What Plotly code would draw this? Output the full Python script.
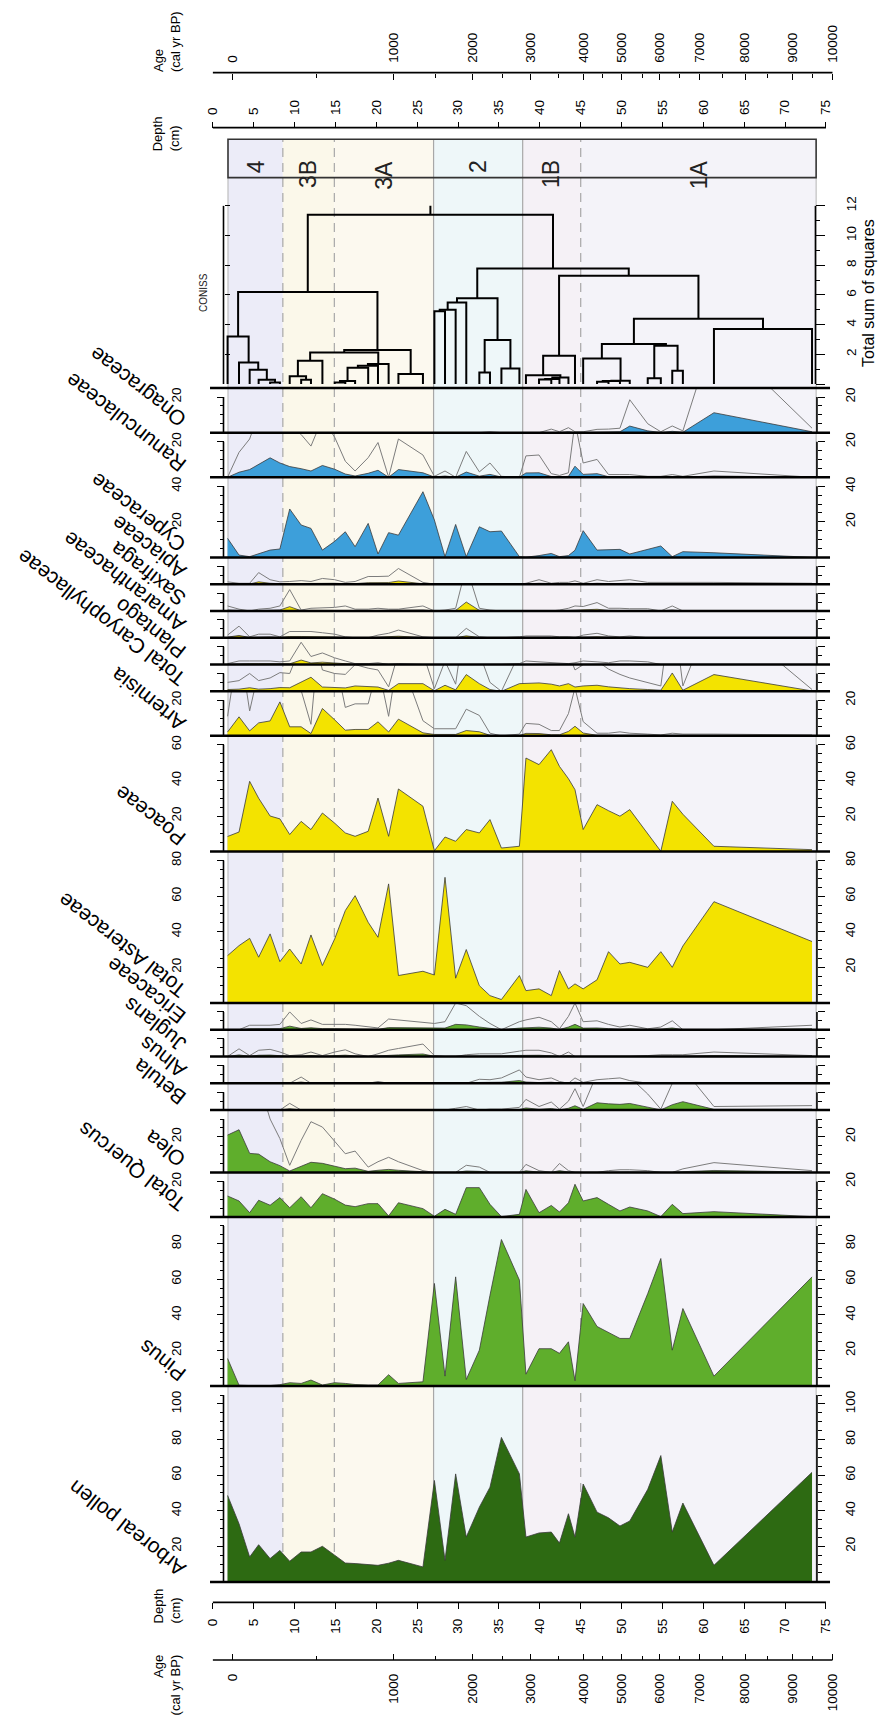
import plotly.graph_objects as go

# ---------------------------------------------------------------- data
# sample depths (cm)
DEPTH = [1.8, 3.2, 4.5, 5.6, 7.0, 8.2, 9.4, 10.8, 12.0, 13.4, 14.9, 16.2, 17.4, 19.0, 20.2,
         21.5, 22.7, 25.7, 27.1, 28.4, 29.7, 31.0, 32.6, 33.9, 35.3, 37.5, 38.3, 39.9, 41.4,
         42.4, 43.5, 44.3, 45.3, 47.0, 48.4, 49.8, 51.0, 53.2, 54.8, 56.2, 57.5, 61.3, 73.3]

# pollen percentages per taxon, one value per sample depth
ONAGRACEAE = [0, 0, 0, 0, 0, 0, 0, 0, 0, 0, 0, 0, 0, 0, 0, 0, 0, 0, 0, 0, 0, 0, 0, 0.1, 0, 0, 0,
              0, 0.4, 0.1, 0.56, 0.1, 0.1, 0.37, 0.4, 0.5, 3.7, 1.0, 0.1, 0.75, 0.2, 11.2, 0.5]
RANUNCULACEAE = [0, 2.8, 4.3, 7.0, 10.9, 8.0, 6.0, 4.8, 3.5, 6.6, 4.5, 1.8, 0.7, 2.2, 3.9, 0,
                 4.3, 2.5, 0.1, 0.7, 0, 2.9, 0.6, 1.6, 0.1, 0, 2.4, 2.5, 0.4, 0.2, 0.5, 6.2, 1.6,
                 2.0, 0.3, 0.3, 0.3, 0.1, 0.1, 0.3, 0.1, 0.7, 0]
CYPERACEAE = [10.7, 1.3, 0.4, 2.0, 4.1, 4.7, 27.2, 18.2, 16.3, 4.1, 9.0, 14.4, 6.0, 19.1, 1.9,
              13.9, 12.5, 36.9, 21.0, 0.4, 18.5, 0.4, 17.2, 14.4, 14.8, 0.4, 0.1, 1.0, 2.2, 0.4,
              1.0, 4.0, 15.0, 4.1, 4.3, 4.5, 1.9, 4.5, 6.4, 0.4, 3.2, 2.6, 0]
APIACEAE = [0.26, 0.1, 0.1, 1.3, 0.5, 0.26, 0.3, 0.4, 0.3, 0.64, 0.5, 0.2, 0.3, 0.86, 0.86, 0.9,
            1.76, 0.2, 0, 0, 0, 0, 0, 0, 0, 0, 0.1, 0.5, 0.1, 0.2, 0.2, 0.37, 0.1, 0.5, 0.3, 0.4,
            0.5, 0.2, 0.2, 0.2, 0.2, 0.2, 0.1]
SAXIFRAGA = [0.56, 0.2, 0, 0.2, 0.3, 0.56, 2.4, 0.1, 0.3, 0.37, 0.4, 0.56, 0.2, 0.2, 0.3, 0.2,
             0.2, 0.56, 0, 0.1, 0.3, 5.0, 0.3, 0.1, 0, 0, 0, 0, 0, 0.1, 0.3, 0.56, 0.5, 0.94, 0.3,
             0.3, 0.25, 0.25, 0, 0.56, 0, 0, 0]
AMARANTHACEAE = [0.3, 1.3, 0.1, 0.4, 0.4, 0.1, 0.7, 0.7, 0.7, 0.56, 0.4, 0.1, 0, 0, 0.3, 0.5,
                 0.86, 0.1, 0, 0, 0, 1.05, 0.1, 0, 0, 0.1, 0.2, 0.2, 0.2, 0.1, 0.1, 0, 0.3, 0.5,
                 0.2, 0.1, 0.2, 0, 0, 0, 0, 0, 0]
PLANTAGO = [0.1, 0.4, 0.4, 0.4, 0.4, 0.3, 0.4, 2.5, 0.9, 1.3, 0.75, 0.4, 0.1, 0.1, 0.2, 0, 0.1, 0,
            0, 0, 0, 0, 0, 0, 0, 0.1, 0.4, 0.3, 0.2, 0.1, 0.1, 0.2, 0.4, 0.3, 0.2, 0.4, 0.4, 0.3,
            0, 0, 0, 0, 0]
CARYOPHYLLACEAE = [1.0, 1.2, 2.0, 1.2, 1.5, 2.1, 2.0, 5.2, 7.9, 2.4, 2.0, 1.9, 3.0, 2.6, 2.4, 0.5,
                   4.3, 4.3, 0.3, 3.4, 0.8, 9.4, 4.3, 1.0, 0, 4.3, 4.3, 4.7, 4.0, 3.0, 4.3, 2.4,
                   3.0, 3.4, 2.5, 1.9, 1.5, 1.0, 0.6, 10.3, 0.6, 9.4, 0.2]
ARTEMISIA = [2.2, 10.7, 2.8, 7.3, 8.4, 19.1, 5.1, 5.1, 1.3, 15.4, 9.0, 3.2, 3.6, 3.6, 7.9, 2.2,
             9.4, 1.7, 0.8, 0.8, 0.8, 3.0, 2.3, 0.3, 0, 0.2, 1.4, 1.3, 0.6, 0.6, 2.5, 5.4, 1.6,
             0.3, 0.3, 0.45, 0.3, 0.2, 0.1, 0.3, 0.2, 0.2, 0.1]
POACEAE = [8.5, 11.0, 39.5, 30.0, 20.0, 18.4, 9.6, 17.0, 12.4, 21.7, 16.0, 10.5, 8.6, 11.4, 30.1,
           8.6, 35.2, 25.5, 0.5, 8.2, 5.8, 12.4, 10.5, 18.0, 2.0, 3.0, 52.6, 48.9, 57.3, 47.9,
           41.0, 34.8, 12.4, 26.4, 23.0, 19.9, 23.6, 10.0, 0.2, 28.3, 21.0, 3.0, 1.1]
ASTERACEAE = [26.6, 32.2, 36.3, 25.7, 38.8, 23.2, 30.3, 21.9, 38.2, 21.0, 36.0, 51.9, 60.3, 45.3,
              36.9, 66.9, 15.4, 17.8, 15.7, 70.6, 13.9, 30.0, 9.7, 4.1, 1.9, 15.4, 6.9, 7.9, 4.1,
              18.2, 7.9, 10.7, 7.9, 13.0, 28.8, 21.9, 22.8, 20.0, 28.8, 20.0, 32.0, 56.9, 34.5]
ERICACEAE = [0, 0, 0.5, 0.5, 0.5, 0.6, 2.0, 0.7, 1.1, 0.6, 0.6, 0.6, 0.5, 0.3, 0.2, 1.2, 1.1, 0.9,
             0.7, 0.9, 3.0, 2.7, 1.5, 0.7, 0, 0.9, 1.1, 1.4, 0.9, 0.1, 1.5, 3.0, 0.9, 1.0, 0.6,
             0.3, 0.5, 0.1, 0.3, 1.0, 0, 0, 0.5]
JUGLANS = [0, 0.86, 0.1, 0.7, 0.8, 0.5, 0.1, 0.2, 0.5, 0.1, 0.5, 0.75, 0.3, 0, 0.3, 0.7, 0.9, 1.4,
           0.1, 0, 0, 0.2, 0.3, 0.3, 0.3, 0.6, 0.7, 0.7, 0.4, 0, 0.5, 0, 0, 0, 0, 0, 0, 0.1, 0.2,
           0.2, 0.2, 0.5, 0.1]
ALNUS = [0, 0, 0, 0, 0, 0, 0, 0.7, 0, 0, 0, 0, 0, 0, 0.2, 0, 0, 0, 0, 0, 0, 0, 0.45, 0.4, 0.6,
         1.5, 0.7, 0.4, 0.6, 0.2, 0, 0.6, 0.1, 0.4, 0.5, 0.6, 0.3, 0, 0, 0, 0, 0, 0]
BETULA = [0, 0, 0, 0, 0, 0, 0.75, 0, 0, 0, 0, 0, 0, 0, 0, 0, 0, 0, 0, 0, 0.2, 0.4, 0, 0.1, 0.1,
          0.3, 1.2, 0.4, 0.9, 0.1, 1.0, 2.4, 0.4, 4.1, 3.5, 3.2, 3.7, 1.8, 0.1, 3.0, 4.7, 0.4, 0.5]
OLEA = [21.0, 24.0, 10.7, 10.3, 6.0, 3.8, 0.8, 3.6, 5.7, 5.1, 3.5, 2.1, 2.4, 0.6, 1.2, 1.7, 1.2,
        0.2, 0, 0, 0, 0.8, 0.6, 0, 0, 0, 0.9, 0.2, 0, 1.0, 0.2, 0, 0, 0, 0.2, 0.3, 0.3, 0.2, 0, 0,
        0.4, 1.1, 0.2]
QUERCUS = [11.8, 9.0, 2.4, 9.4, 6.6, 10.9, 5.2, 11.4, 5.2, 13.1, 10.0, 6.7, 5.8, 7.5, 7.5, 0.6,
           8.0, 4.7, 0.4, 4.3, 1.5, 16.5, 16.5, 7.1, 0.2, 1.5, 15.5, 2.4, 6.5, 2.8, 8.0, 18.4, 9.0,
           10.9, 7.1, 3.4, 5.6, 3.4, 0.2, 7.1, 1.9, 3.0, 0.2]
PINUS = [15.5, 0.5, 0.3, 0.3, 0.3, 0.8, 1.9, 1.5, 3.4, 0.6, 1.9, 1.5, 0.9, 0.6, 0.6, 6.4, 1.5, 2.4,
         57.7, 5.6, 61.4, 3.7, 20.2, 51.0, 82.4, 59.6, 6.7, 21.0, 21.0, 18.4, 24.9, 3.0, 46.4,
         33.5, 30.0, 26.8, 26.8, 52.0, 71.7, 20.2, 43.6, 5.6, 61.4]
ARBOREAL = [48.6, 32.7, 14.0, 20.9, 13.1, 17.7, 11.6, 16.8, 16.8, 20.0, 15.0, 10.6, 10.3, 9.8, 9.3,
            10.5, 12.1, 8.4, 57.0, 12.1, 60.7, 25.2, 42.0, 53.2, 81.2, 60.7, 25.2, 27.5, 28.0,
            21.8, 38.3, 25.2, 55.0, 39.2, 36.0, 31.4, 34.2, 52.0, 71.0, 28.0, 44.3, 9.3, 61.6]

# CONISS agglomeration: (child a, child b, total sum of squares); indices below
# len(DEPTH) are samples, higher indices are earlier merges in this list
CONISS_MERGES = [
    (4, 5, 0.10), (3, 43, 0.29), (2, 44, 0.96), (1, 45, 1.46), (0, 46, 3.20),
    (7, 8, 0.29), (6, 48, 0.52), (49, 9, 1.57), (10, 11, 0.10), (51, 12, 0.20),
    (52, 13, 1.10), (53, 14, 1.23), (54, 15, 1.35), (50, 55, 2.13), (16, 17, 0.67),
    (56, 57, 2.29), (47, 58, 6.20), (18, 19, 4.90), (60, 20, 5.00), (61, 21, 5.50),
    (22, 23, 0.78), (24, 25, 1.05), (63, 64, 2.96), (62, 65, 5.78), (27, 28, 0.30),
    (67, 29, 0.35), (68, 30, 0.45), (26, 69, 0.60), (70, 31, 1.90), (33, 34, 0.15),
    (72, 35, 0.20), (73, 36, 0.22), (32, 74, 1.73), (37, 38, 0.40), (39, 40, 0.90),
    (76, 77, 2.58), (75, 78, 2.70), (41, 42, 3.70), (79, 80, 4.40), (71, 81, 7.30),
    (66, 82, 7.78), (59, 83, 11.40),
]
CONISS_TICKS = [0, 2, 4, 6, 8, 10, 12]

# pollen zones
ZONE_NAMES = ["4", "3B", "3A", "2", "1B", "1A"]
ZONE_BOUNDS = [1.85, 8.56, 14.86, 27.0, 37.9, 45.0, 73.8]

# depth and age scales
DEPTH_TICKS = [0, 5, 10, 15, 20, 25, 30, 35, 40, 45, 50, 55, 60, 65, 70, 75]
AGE_LABELS = ["0", "1000", "2000", "3000", "4000", "5000", "6000", "7000", "8000", "9000", "10000"]
AGE_TICK_DEPTH = [2.4, 22.1, 31.8, 38.9, 45.3, 50.0, 54.6, 59.5, 65.1, 70.9, 75.8]
AGE_MINOR_DEPTH = [12.7, 27.2, 35.4, 42.3, 47.7, 52.5, 57.1, 62.3, 67.9, 73.4]

# ---------------------------------------------------------------- styling
W, H = 884, 1720
FONT = "Liberation Sans, Arial, Helvetica, sans-serif"
BLUE, YELLOW, GREEN, DKGREEN = "#3d9fda", "#f3e300", "#5fae2c", "#2d6a12"
OUTLINE, EXAG_GREY = "#3a3a3a", "#7c7c7c"
ZONE_FILL = ["#ececf8", "#fbf8ea", "#fcf9ef", "#eef7f9", "#f5f1f6", "#f4f3f9"]
ZONE_DASH = ["dash", "dash", "solid", "solid", "dash"]
EXAG = 5

PANELS = [  # name, values, axis maximum, colour, exaggeration curve
    ("Onagraceae", ONAGRACEAE, 20, BLUE, True),
    ("Ranunculaceae", RANUNCULACEAE, 20, BLUE, True),
    ("Cyperaceae", CYPERACEAE, 40, BLUE, False),
    ("Apiaceae", APIACEAE, 10, YELLOW, True),
    ("Saxifraga", SAXIFRAGA, 10, YELLOW, True),
    ("Amaranthaceae", AMARANTHACEAE, 10, YELLOW, True),
    ("Plantago", PLANTAGO, 10, YELLOW, True),
    ("Total Caryophyllaceae", CARYOPHYLLACEAE, 10, YELLOW, True),
    ("Artemisia", ARTEMISIA, 20, YELLOW, True),
    ("Poaceae", POACEAE, 60, YELLOW, False),
    ("Total Asteraceae", ASTERACEAE, 80, YELLOW, False),
    ("Ericaceae", ERICACEAE, 10, GREEN, True),
    ("Juglans", JUGLANS, 10, GREEN, True),
    ("Alnus", ALNUS, 10, GREEN, True),
    ("Betula", BETULA, 10, GREEN, True),
    ("Olea", OLEA, 30, GREEN, True),
    ("Total Quercus", QUERCUS, 20, GREEN, False),
    ("Pinus", PINUS, 90, GREEN, False),
    ("Arboreal pollen", ARBOREAL, 105, DKGREEN, False),
]


def xp(px):
    return px / W


def yp(px):
    return 1 - px / H


# geometry (pixels)
X0_PX, PX_PER_CM = 210.3, 8.23
X_RANGE = [-0.5, 76.5]
X_DOMAIN = [xp(X0_PX + X_RANGE[0] * PX_PER_CM), xp(X0_PX + X_RANGE[1] * PX_PER_CM)]
LEFT_AX, RIGHT_AX = 221.0, 818.5
PX_PER_PCT, GAP = 1.78, 9.0
CONISS_ZERO, CONISS_UNIT, CONISS_TOP, CONISS_BASE = 383.3, 14.86, 185.0, 387.3
BOX_TOP, BOX_BOT = 138.3, 176.7

traces, shapes, annotations = [], [], []
axes = {}
tickfont = dict(family=FONT, size=13.5, color="black")


def yaxis_ticks(major, labels, minor, ticks="outside", showlabels=True, standoff=14):
    return dict(
        showgrid=False, zeroline=False, showline=False, fixedrange=True,
        tickmode="array", tickvals=major, ticktext=labels, ticks=ticks, ticklen=7,
        tickwidth=1.3, tickcolor="black", showticklabels=showlabels, tickangle=-90,
        tickfont=tickfont, ticklabelstandoff=standoff,
        minor=dict(tickmode="array", tickvals=minor, ticks=ticks, ticklen=4,
                   tickwidth=1.3, tickcolor="black", showgrid=False),
    )


def hline_px(px, x0, x1, width=2.5, color="black"):
    shapes.append(dict(type="line", xref="x", yref="paper", x0=x0, x1=x1, y0=yp(px), y1=yp(px),
                       line=dict(color=color, width=width), layer="above"))


def axis_holder(xref, yref):
    # empty trace so that an overlaying axis gets drawn
    traces.append(go.Scatter(x=[None], y=[None], xaxis=xref, yaxis=yref, hoverinfo="skip",
                             showlegend=False))


# ---------------------------------------------------------------- zone backgrounds
prev = CONISS_BASE
for name, vals, vmax, color, exag in PANELS:
    prev = prev + GAP + vmax * PX_PER_PCT
bottom_px = prev

for i, zname in enumerate(ZONE_NAMES):
    x0, x1 = ZONE_BOUNDS[i], ZONE_BOUNDS[i + 1]
    for top, bot in ((BOX_TOP, BOX_BOT), (BOX_BOT, bottom_px)):
        shapes.append(dict(type="rect", xref="x", yref="paper", x0=x0, x1=x1, y0=yp(bot), y1=yp(top),
                           fillcolor=ZONE_FILL[i], line=dict(width=0), layer="below"))
    annotations.append(dict(text=zname, x=(x0 + x1) / 2, y=yp((BOX_TOP + BOX_BOT) / 2), xref="x",
                            yref="paper", showarrow=False, textangle=-90,
                            font=dict(family=FONT, size=23, color="#222")))
for j, zb in enumerate(ZONE_BOUNDS[1:-1]):
    shapes.append(dict(type="line", xref="x", yref="paper", x0=zb, x1=zb, y0=yp(bottom_px),
                       y1=yp(BOX_TOP), layer="below",
                       line=dict(color="#a8a8a8", width=1.2,
                                 dash="9px,6px" if ZONE_DASH[j] == "dash" else "solid")))
for zb in (ZONE_BOUNDS[0], ZONE_BOUNDS[-1]):
    shapes.append(dict(type="line", xref="x", yref="paper", x0=zb, x1=zb, y0=yp(bottom_px),
                       y1=yp(BOX_BOT), layer="below", line=dict(color="#b4b4b4", width=1)))
shapes.append(dict(type="rect", xref="x", yref="paper", x0=ZONE_BOUNDS[0], x1=ZONE_BOUNDS[-1],
                   y0=yp(BOX_BOT), y1=yp(BOX_TOP), line=dict(color="#333", width=1.6),
                   fillcolor="rgba(0,0,0,0)", layer="above"))

# ---------------------------------------------------------------- CONISS dendrogram
n = len(DEPTH)
node_x, node_h = list(DEPTH), [0.0] * n
dx, dy = [], []
for a, b, h in CONISS_MERGES:
    xa, xb = node_x[a], node_x[b]
    dx += [xa, xa, xb, xb, None]
    dy += [node_h[a], h, h, node_h[b], None]
    node_x.append((xa + xb) / 2)
    node_h.append(h)
dx += [node_x[-1], node_x[-1]]
dy += [node_h[-1], CONISS_TICKS[-1]]
traces.append(go.Scatter(x=dx, y=dy, mode="lines", line=dict(color="black", width=2),
                         xaxis="x", yaxis="y", hoverinfo="skip", showlegend=False))

coniss_range = [0, (CONISS_ZERO - CONISS_TOP) / CONISS_UNIT]
axes["yaxis"] = dict(domain=[yp(CONISS_ZERO), yp(CONISS_TOP)], range=coniss_range, anchor="free",
                     position=xp(LEFT_AX), side="left",
                     **yaxis_ticks(CONISS_TICKS[1:], [""] * 6, [], ticks="inside", showlabels=False))
axes["yaxis"]["ticklen"] = 5
axes["yaxis2"] = dict(range=coniss_range, overlaying="y", anchor="free", position=xp(817),
                      side="right",
                      **yaxis_ticks(CONISS_TICKS, [""] + [str(t) for t in CONISS_TICKS[1:]],
                                    [t + 1 for t in CONISS_TICKS[:-1]], standoff=14))
axes["yaxis2"]["ticklen"] = 9
axis_holder("x", "y2")
for xpos in (LEFT_AX, 817):
    shapes.append(dict(type="line", xref="paper", yref="y", x0=xp(xpos), x1=xp(xpos), y0=0,
                       y1=CONISS_TICKS[-1], line=dict(color="black", width=1.6), layer="above"))
hline_px(CONISS_BASE, -0.35, 75.5)
annotations.append(dict(text="CONISS", x=xp(201.5), y=yp(292), xref="paper", yref="paper",
                        xanchor="center", yanchor="middle", showarrow=False, textangle=-90,
                        font=dict(family=FONT, size=10, color="#222")))
annotations.append(dict(text="Total sum of squares", x=xp(871), y=yp(292), xref="paper",
                        yref="paper", xanchor="center", yanchor="middle", showarrow=False,
                        textangle=-90, font=dict(family=FONT, size=16, color="black")))

# ---------------------------------------------------------------- taxon panels
prev = CONISS_BASE
for i, (name, vals, vmax, color, exag) in enumerate(PANELS):
    base = prev + GAP + vmax * PX_PER_PCT
    top_val = (base - prev) / PX_PER_PCT
    li, ri = 3 + 2 * i, 4 + 2 * i
    yref = f"y{li}"
    if vmax >= 20:
        major = list(range(20, vmax + 1, 20))
        labels = [str(v) for v in major]
        show = True
    else:
        major, labels, show = [vmax], [""], False
    minor = [v for v in range(5, vmax + 1, 5) if v not in major]

    axes[f"yaxis{li}"] = dict(domain=[yp(base), yp(prev)], range=[0, top_val], anchor="free",
                              position=xp(LEFT_AX), side="left",
                              **yaxis_ticks(major, labels, minor, showlabels=show, standoff=30))
    axes[f"yaxis{ri}"] = dict(range=[0, top_val], overlaying=yref, anchor="free",
                              position=xp(RIGHT_AX), side="right",
                              **yaxis_ticks(major, labels, minor, showlabels=show, standoff=14))
    axis_holder("x", f"y{ri}")

    if exag:
        traces.append(go.Scatter(x=DEPTH, y=[v * EXAG for v in vals], mode="lines",
                                 line=dict(color=EXAG_GREY, width=1), xaxis="x", yaxis=yref,
                                 hoverinfo="skip", showlegend=False))
    traces.append(go.Scatter(x=DEPTH, y=vals, mode="lines", fill="tozeroy", fillcolor=color,
                             line=dict(color=OUTLINE, width=0.8), xaxis="x", yaxis=yref,
                             name=name, showlegend=False))

    for xpos in (LEFT_AX, RIGHT_AX):
        shapes.append(dict(type="line", xref="paper", yref=yref, x0=xp(xpos), x1=xp(xpos), y0=0,
                           y1=vmax, line=dict(color="black", width=1.6), layer="above"))
    hline_px(base, -0.35, 75.5)

    annotations.append(dict(text=name, x=xp(190), y=yp(base + 2), xref="paper", yref="paper",
                            xanchor="right", yanchor="bottom", showarrow=False, textangle=-142,
                            font=dict(family=FONT, size=21, color="black")))
    prev = base

# ---------------------------------------------------------------- depth and age axes
DEPTH_TOP, DEPTH_BOT, AGE_TOP, AGE_BOT = 126.7, 1602.3, 71.7, 1660.0


def x_scale(side, pos_px, vals, text, ticks, minor=None, standoff=4):
    d = dict(overlaying="x", anchor="free", position=yp(pos_px), side=side, range=X_RANGE,
             showgrid=False, zeroline=False, showline=False, fixedrange=True,
             tickmode="array", tickvals=vals, ticktext=text, ticks=ticks, ticklen=6,
             tickwidth=1.3, tickcolor="black", tickangle=-90, tickfont=tickfont,
             ticklabelstandoff=standoff)
    if minor:
        d["minor"] = dict(tickmode="array", tickvals=minor, ticks=ticks, ticklen=4, tickwidth=1.3,
                          tickcolor="black", showgrid=False)
    return d


depth_text = [str(t) for t in DEPTH_TICKS]
axes["xaxis2"] = x_scale("bottom", DEPTH_BOT, DEPTH_TICKS, depth_text, "outside")
axes["xaxis3"] = x_scale("top", DEPTH_TOP, DEPTH_TICKS, depth_text, "outside")
axes["xaxis4"] = x_scale("bottom", AGE_BOT, AGE_TICK_DEPTH, AGE_LABELS, "inside",
                         AGE_MINOR_DEPTH, standoff=10)
axes["xaxis5"] = x_scale("top", AGE_TOP, AGE_TICK_DEPTH, AGE_LABELS, "inside",
                         AGE_MINOR_DEPTH, standoff=10)
for k in range(2, 6):
    axis_holder(f"x{k}", "y")

for px in (DEPTH_TOP, DEPTH_BOT):
    hline_px(px, DEPTH_TICKS[0], DEPTH_TICKS[-1], width=1.6)
for px in (AGE_TOP, AGE_BOT):
    hline_px(px, 0, AGE_TICK_DEPTH[-1], width=1.6)

title_font = dict(family=FONT, size=13, color="black")
for text, ypx, yanchor, align in (("Age<br>(cal yr BP)", AGE_TOP + 1, "bottom", "left"),
                                  ("Depth<br>(cm)", 152, "bottom", "left"),
                                  ("Depth<br>(cm)", 1625, "bottom", "left"),
                                  ("Age<br>(cal yr BP)", AGE_BOT - 8, "top", "right")):
    annotations.append(dict(text=text, x=xp(164), y=yp(ypx), xref="paper", yref="paper",
                            xanchor="center", yanchor=yanchor, align=align, showarrow=False,
                            textangle=-90, font=title_font))

# ---------------------------------------------------------------- figure
fig = go.Figure(traces)
fig.update_layout(
    width=W, height=H, autosize=False, margin=dict(l=0, r=0, t=0, b=0),
    paper_bgcolor="white", plot_bgcolor="rgba(0,0,0,0)", showlegend=False,
    font=dict(family=FONT, color="black"),
    xaxis=dict(domain=X_DOMAIN, range=X_RANGE, visible=False, fixedrange=True, anchor="y"),
    shapes=shapes, annotations=annotations, **axes,
)
fig.write_html("out.html", config=dict(displayModeBar=False))
